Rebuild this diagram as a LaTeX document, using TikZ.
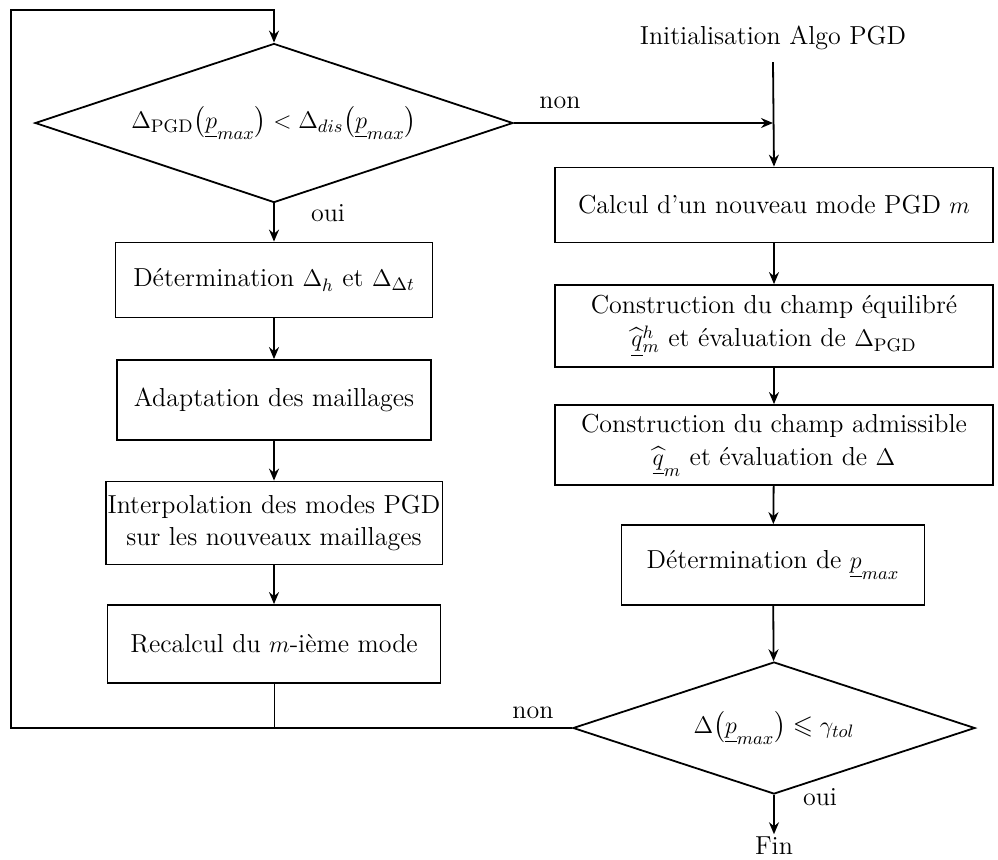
\documentclass[tikz,border=0pt]{standalone}
\usepackage{amsmath,amssymb}
\usepackage{fontspec}
\usetikzlibrary{shapes.geometric,arrows.meta}
\begin{document}
\begin{tikzpicture}[x=0.5pt,y=-0.5pt,
  font=\fontsize{13}{15.5}\selectfont,
  line width=0.9pt,
  boxnode/.style={draw,rectangle,align=center,inner sep=1pt},
  decision/.style={draw,diamond,aspect=3,inner sep=0pt},
  lbl/.style={inner sep=0pt},
  arr/.style={-{Stealth[length=6pt,width=5pt,inset=2pt]}},
  thinline/.style={line width=0.5pt}]
\useasboundingbox (0,0) rectangle (998,859);

\node[decision,minimum width=239pt,minimum height=79.5pt] (d1) at (274,123)
  {$\Delta_{\mathrm{PGD}}\bigl(\underline{p}_{max}\bigr) < \Delta_{dis}\bigl(\underline{p}_{max}\bigr)$};
\node[lbl] (init) at (773,38) {Initialisation Algo PGD};
\node[boxnode,minimum width=219pt,minimum height=37.5pt] (r1) at (774,205) {Calcul d’un nouveau mode PGD $m$};
\node[boxnode,minimum width=219pt,minimum height=41pt] (r2) at (774,326)
  {Construction du champ équilibré\\[1pt] $\widehat{\underline{q}}{}^h_m$ et évaluation de $\Delta_{\mathrm{PGD}}$};
\node[boxnode,minimum width=219pt,minimum height=40pt] (r3) at (774,445)
  {Construction du champ admissible\\[1pt] $\widehat{\underline{q}}_m$ et évaluation de $\Delta$};
\node[boxnode,minimum width=151.5pt,minimum height=40pt] (r4) at (773,565) {Détermination de $\underline{p}_{max}$};
\node[decision,minimum width=201pt,minimum height=66pt] (d2) at (774,728)
  {$\Delta\bigl(\underline{p}_{max}\bigr) \leqslant \gamma_{tol}$};
\node[lbl] (fin) at (774,846) {Fin};

\node[boxnode,minimum width=158.5pt,minimum height=37.5pt] (l1) at (274,280) {Détermination $\Delta_h$ et $\Delta_{\Delta t}$};
\node[boxnode,minimum width=157pt,minimum height=40pt] (l2) at (274,400) {Adaptation des maillages};
\node[boxnode,minimum width=167.5pt,minimum height=41.5pt] (l3) at (274,523)
  {Interpolation des modes PGD\\[1pt] sur les nouveaux maillages};
\node[boxnode,minimum width=166.5pt,minimum height=39pt] (l4) at (274,644) {Recalcul du $m$-ième mode};

\coordinate (is) at (773,62);
\coordinate (m1) at (773,123);
\coordinate (tl) at (11,10);
\coordinate (bl) at (11,728);

% labels
\node[lbl] (non1) at (560,103) {non};
\node[lbl] (oui1) at (328,213) {oui};
\node[lbl] (non2) at (533,713) {non};
\node[lbl] (oui2) at (820,797) {oui};

% connectors
\draw[arr] (is) -- (r1.north);
\draw[arr] (d1.east) -- (m1);
\draw[arr] (r1) -- (r2);
\draw[arr] (r2) -- (r3);
\draw[arr] (r3) -- (r4);
\draw[arr] (r4) -- (d2);
\draw[arr] (d2.south) -- ([yshift=1pt]fin.north);
\draw[arr] (d1) -- (l1);
\draw[arr] (l1) -- (l2);
\draw[arr] (l2) -- (l3);
\draw[arr] (l3) -- (l4);
\draw[arr] (d2.west) -- (bl) -- (tl) -- (tl -| d1.north) -- (d1.north);
\draw[thinline] (l4.south) -- (l4.south |- bl);
\end{tikzpicture}
\end{document}
